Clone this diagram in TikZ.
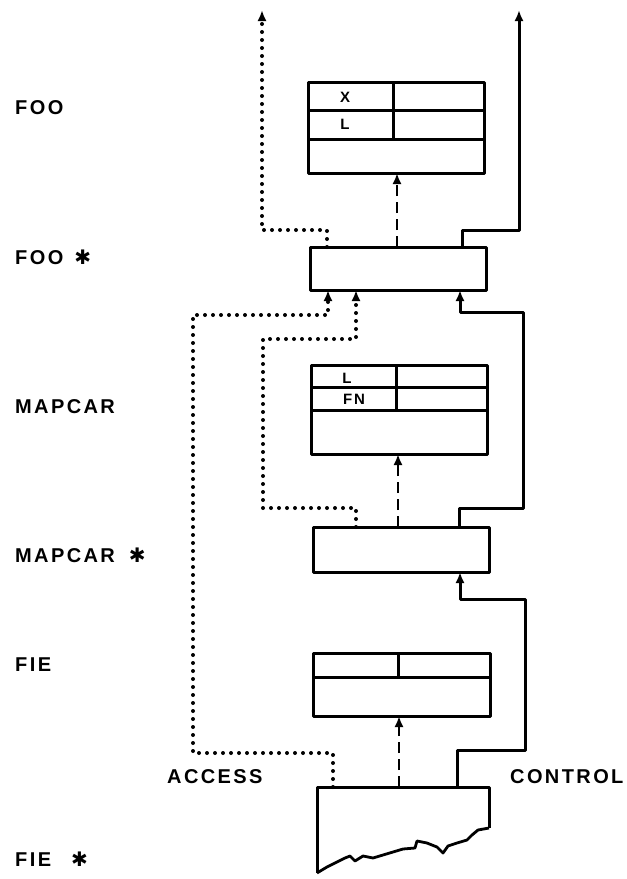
\documentclass[tikz,border=0pt]{standalone}
\usepackage{fontspec}
\setmainfont{Liberation Sans}[LetterSpace=12]
\newfontfamily\symfont{DejaVu Sans}
\usetikzlibrary{arrows.meta}

\newcommand{\frst}{{\symfont\fontsize{20}{24}\selectfont ✱}}

\tikzset{
  frame/.style={draw, line width=3pt, inner sep=0pt, outer sep=0pt},
  rowline/.style={line width=3pt},
  access/.style={line width=4pt, line cap=round, dash pattern=on 0pt off 8pt},
  control/.style={line width=3pt},
  data/.style={line width=2.6pt, dash pattern=on 11pt off 6pt},
  tip/.style={-{Latex[length=11pt,width=9pt]}},
  lbl/.style={anchor=base west, inner sep=0pt, font=\bfseries\fontsize{20}{24}\selectfont},
  cell/.style={inner sep=0pt, font=\bfseries\fontsize{15}{17}\selectfont}
}

\begin{document}
\begin{tikzpicture}[x=1pt, y=-1pt, line join=round]
\useasboundingbox (0,0) rectangle (627,879);
\coordinate (accout) at (262,10);
\coordinate (ctlout) at (519,10);

% frames and their control blocks
\node[frame, minimum width=176pt, minimum height=91pt] (Foo) at (396,127.5) {};
\node[frame, minimum width=176pt, minimum height=43pt] (FooS) at (398,268.5) {};
\node[frame, minimum width=176pt, minimum height=89pt] (Map) at (399,409.5) {};
\node[frame, minimum width=176pt, minimum height=45pt] (MapS) at (401,549.5) {};
\node[frame, minimum width=177pt, minimum height=63pt] (Fie) at (401.5,684.5) {};
\node[inner sep=0pt, outer sep=0pt, minimum width=172pt, minimum height=86pt] (FieS) at (403,830) {};

% cells
\draw[rowline] (Foo.west |- 0,110) -- (Foo.east |- 0,110);
\draw[rowline] (Foo.west |- 0,139) -- (Foo.east |- 0,139);
\draw[rowline] (Foo.north -| 393,0) -- (393,139);
\draw[rowline] (Map.west |- 0,387) -- (Map.east |- 0,387);
\draw[rowline] (Map.west |- 0,410) -- (Map.east |- 0,410);
\draw[rowline] (Map.north -| 396,0) -- (396,410);
\draw[rowline] (Fie.west |- 0,677) -- (Fie.east |- 0,677);
\draw[rowline] (Fie.north -| 398,0) -- (398,677);

% torn block at the bottom
\draw[line width=3pt] (FieS.south west) -- (FieS.north west) -- (FieS.north east) -- (489,828);
\draw[line width=2.8pt] (489,828) -- (478,830) -- (472,835) -- (467,840) -- (457,843)
  -- (448,846) -- (443,853) -- (437,847) -- (427,843) -- (417,841) -- (415,848)
  -- (403,849) -- (393,852) -- (383,855) -- (373,858) -- (363,856) -- (355,861)
  -- (350,856) -- (345,858) -- (337,862) -- (327,867) -- (FieS.south west);

\node[cell] (x1) at (345,97) {X};
\node[cell] (l1) at (345,124) {L};
\node[cell] (l2) at (347,378) {L};
\node[cell] (fn) at (354,399) {FN};

% data links
\draw[data, tip] (FooS.north -| 397,0) -- (Foo.south -| 397,0);
\draw[data, tip] (MapS.north -| 398,0) -- (Map.south -| 398,0);
\draw[data, tip] (FieS.north -| 399,0) -- (Fie.south -| 399,0);

% control links
\draw[control, tip] (FooS.north -| 462,0) |- (519,230) -- (ctlout);
\draw[control, tip] (MapS.north -| 459,0) |- (523,508) |- (460,312) -- (FooS.south -| 460,0);
\draw[control, tip] (FieS.north -| 457,0) |- (525,750) |- (460,599) -- (MapS.south -| 460,0);

% access links
\draw[access, tip] (FooS.north -| 327,0) |- (262,230) -- (accout);
\draw[access, tip] (MapS.north -| 356,0) |- (263,508) |- (356,339) -- (FooS.south -| 356,0);
\draw[access, tip] (FieS.north -| 333,0) |- (193,753) |- (328,315) -- (FooS.south -| 328,0);

% names
\node[lbl] (nFoo) at (15,114) {FOO};
\node[lbl] (nFooS) at (15,264) {FOO\hspace{11pt}\frst};
\node[lbl] (nMap) at (15,413) {MAPCAR};
\node[lbl] (nMapS) at (15,562) {MAPCAR\hspace{14pt}\frst};
\node[lbl] (nFie) at (15,671) {FIE};
\node[lbl] (nFieS) at (15,866) {FIE\hspace{20pt}\frst};
\node[lbl] (nAcc) at (167,783) {ACCESS};
\node[lbl] (nCtl) at (510,783) {CONTROL};
\end{tikzpicture}
\end{document}
